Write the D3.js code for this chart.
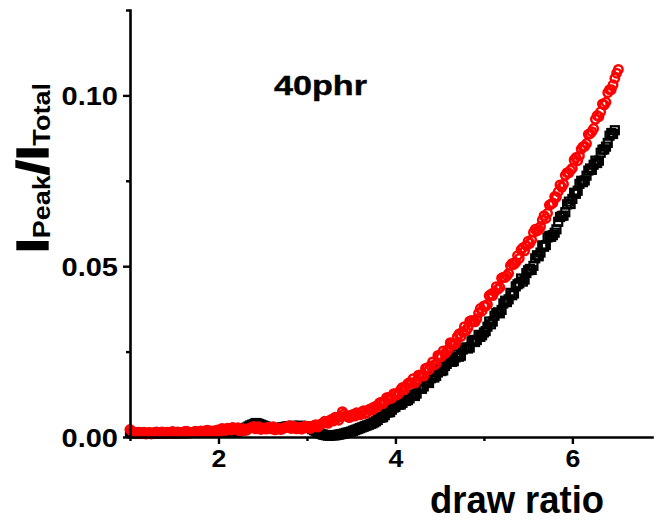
<!DOCTYPE html>
<html><head><meta charset="utf-8">
<script src="https://cdn.jsdelivr.net/npm/d3@7"></script>
<style>
body{margin:0;background:#fff}
svg{display:block}
text{font-family:"Liberation Sans",Arial,sans-serif;font-weight:bold;fill:#000}
</style>
</head><body>
<svg id="c" width="655" height="522"></svg>
<script>
// ---- data ----
const drawRatio = [
1.00,1.04,1.08,1.12,1.16,1.20,1.24,1.28,1.32,1.36,
1.40,1.44,1.48,1.52,1.56,1.60,1.64,1.68,1.72,1.76,
1.80,1.84,1.88,1.92,1.96,2.00,2.04,2.08,2.12,2.16,
2.20,2.24,2.28,2.32,2.36,2.40,2.44,2.48,2.52,2.56,
2.60,2.64,2.68,2.72,2.76,2.80,2.84,2.88,2.92,2.96,
3.00,3.04,3.08,3.12,3.16,3.20,3.24,3.28,3.32,3.36,
3.40,3.44,3.48,3.52,3.56,3.60,3.64,3.68,3.72,3.76,
3.80,3.84,3.88,3.92,3.96,4.00,4.04,4.08,4.12,4.16,
4.20,4.24,4.28,4.32,4.36,4.40,4.44,4.48,4.52,4.56,
4.60,4.64,4.68,4.72,4.76,4.80,4.84,4.88,4.92,4.96,
5.00,5.04,5.08,5.12,5.16,5.20,5.24,5.28,5.32,5.36,
5.40,5.44,5.48,5.52,5.56,5.60,5.64,5.68,5.72,5.76,
5.80,5.84,5.88,5.92,5.96,6.00,6.04,6.08,6.12,6.16,
6.20,6.24,6.28,6.32,6.36,6.40,6.44,6.48,6.52];

const drawRatioMid = [
1.02,1.06,1.10,1.14,1.18,1.22,1.26,1.30,1.34,1.38,
1.42,1.46,1.50,1.54,1.58,1.62,1.66,1.70,1.74,1.78,
1.82,1.86,1.90,1.94,1.98,2.02,2.06,2.10,2.14,2.18,
2.22,2.26,2.30,2.34,2.38,2.42,2.46,2.50,2.54,2.58,
2.62,2.66,2.70,2.74,2.78,2.82,2.86,2.90,2.94,2.98,
3.02,3.06,3.10,3.14,3.18,3.22,3.26,3.30,3.34,3.38,
3.42,3.46,3.50,3.54,3.58,3.62,3.66,3.70,3.74,3.78,
3.82,3.86,3.90,3.94,3.98,4.02,4.06,4.10,4.14,4.18,
4.22,4.26,4.30,4.34,4.38,4.42,4.46,4.50,4.54,4.58,
4.62,4.66,4.70,4.74,4.78,4.82,4.86,4.90,4.94,4.98,
5.02,5.06,5.10,5.14,5.18,5.22,5.26,5.30,5.34,5.38,
5.42,5.46,5.50,5.54,5.58,5.62,5.66,5.70,5.74,5.78,
5.82,5.86,5.90,5.94,5.98,6.02,6.06,6.10,6.14,6.18,
6.22,6.26,6.30,6.34,6.38,6.42,6.46,6.50];

// red circles
const redSeries = [
.0022,.0015,.0012,.0010,.0014,.0011,.0009,.0013,.0012,.0015,
.0011,.0013,.0016,.0012,.0010,.0014,.0017,.0013,.0015,.0012,
.0018,.0016,.0020,.0017,.0014,.0021,.0025,.0019,.0023,.0028,
.0022,.0018,.0024,.0020,.0026,.0031,.0027,.0022,.0025,.0029,
.0024,.0021,.0026,.0023,.0028,.0033,.0027,.0024,.0029,.0026,
.0031,.0025,.0034,.0029,.0038,.0046,.0040,.0052,.0058,.0049,
.0074,.0062,.0057,.0066,.0071,.0065,.0077,.0072,.0083,.0088,
.0089,.0102,.0104,.0116,.0114,.0127,.0128,.0145,.0146,.0160,
.0171,.0165,.0182,.0178,.0203,.0208,.0211,.0239,.0235,.0244,
.0257,.0274,.0274,.0302,.0308,.0311,.0339,.0337,.0346,.0376,
.0384,.0388,.0418,.0425,.0433,.0465,.0467,.0479,.0508,.0511,
.0523,.0554,.0560,.0567,.0599,.0603,.0616,.0648,.0655,.0682,
.0704,.0718,.0731,.0766,.0773,.0787,.0818,.0823,.0850,.0859,
.0888,.0903,.0941,.0952,.0972,.1008,.1017,.1050,.1076];

const redSeriesMid = [
.0018,.0011,.0014,.0012,.0009,.0013,.0011,.0015,.0010,.0013,
.0014,.0010,.0013,.0015,.0012,.0016,.0011,.0014,.0017,.0013,
.0015,.0019,.0014,.0018,.0020,.0017,.0022,.0026,.0020,.0024,
.0027,.0021,.0019,.0025,.0029,.0024,.0030,.0026,.0023,.0027,
.0030,.0025,.0022,.0027,.0030,.0025,.0031,.0028,.0023,.0032,
.0027,.0030,.0036,.0033,.0041,.0044,.0049,.0047,.0055,.0060,
.0068,.0059,.0064,.0061,.0068,.0073,.0069,.0080,.0079,.0090,
.0100,.0098,.0115,.0112,.0127,.0123,.0139,.0138,.0156,.0157,
.0158,.0181,.0180,.0201,.0197,.0220,.0215,.0238,.0252,.0250,
.0276,.0270,.0294,.0294,.0323,.0320,.0341,.0337,.0363,.0369,
.0383,.0414,.0414,.0440,.0438,.0468,.0472,.0502,.0505,.0531,
.0548,.0545,.0573,.0577,.0608,.0607,.0635,.0640,.0679,.0685,
.0702,.0738,.0740,.0774,.0781,.0811,.0809,.0843,.0851,.0886,
.0894,.0930,.0938,.0975,.0980,.1017,.1031,.1065];

// black squares
const blackSeries = [
.0012,.0010,.0013,.0011,.0009,.0012,.0010,.0011,.0013,.0010,
.0012,.0011,.0013,.0010,.0012,.0014,.0011,.0013,.0012,.0014,
.0013,.0015,.0012,.0014,.0016,.0013,.0015,.0014,.0016,.0015,
.0016,.0019,.0023,.0028,.0034,.0038,.0040,.0036,.0032,.0028,
.0025,.0024,.0026,.0028,.0030,.0031,.0033,.0031,.0033,.0032,
.0030,.0026,.0020,.0014,.0009,.0006,.0004,.0005,.0005,.0007,
.0009,.0012,.0014,.0018,.0022,.0026,.0030,.0034,.0038,.0043,
.0050,.0057,.0064,.0072,.0080,.0088,.0095,.0100,.0106,.0113,
.0124,.0127,.0144,.0148,.0160,.0172,.0174,.0189,.0193,.0208,
.0221,.0220,.0233,.0235,.0256,.0262,.0262,.0284,.0284,.0293,
.0306,.0323,.0330,.0355,.0365,.0372,.0399,.0403,.0415,.0441,
.0450,.0455,.0480,.0492,.0501,.0532,.0540,.0557,.0584,.0586,
.0598,.0630,.0647,.0658,.0689,.0697,.0712,.0741,.0746,.0765,
.0786,.0797,.0802,.0832,.0842,.0861,.0890,.0898];

const blackSeriesMid = [
.0011,.0012,.0009,.0012,.0010,.0011,.0012,.0009,.0011,.0012,
.0010,.0012,.0011,.0013,.0011,.0012,.0014,.0012,.0013,.0012,
.0014,.0013,.0015,.0013,.0014,.0016,.0014,.0015,.0014,.0016,
.0017,.0021,.0026,.0031,.0036,.0041,.0038,.0034,.0030,.0026,
.0024,.0025,.0027,.0029,.0031,.0032,.0032,.0032,.0032,.0031,
.0028,.0023,.0017,.0011,.0007,.0005,.0004,.0005,.0006,.0008,
.0010,.0013,.0016,.0020,.0024,.0028,.0032,.0036,.0040,.0046,
.0056,.0058,.0072,.0073,.0086,.0095,.0095,.0106,.0108,.0121,
.0120,.0141,.0141,.0162,.0158,.0178,.0179,.0197,.0195,.0214,
.0226,.0222,.0242,.0238,.0261,.0259,.0280,.0278,.0299,.0298,
.0310,.0338,.0338,.0363,.0362,.0391,.0395,.0422,.0420,.0447,
.0464,.0461,.0488,.0489,.0523,.0529,.0561,.0562,.0589,.0591,
.0608,.0644,.0648,.0681,.0682,.0715,.0721,.0750,.0751,.0780,
.0782,.0809,.0809,.0841,.0850,.0882,.0887];

const xMajorTicks = [2, 4, 6];
const xMinorTicks = [1, 3, 5];
const yMajorTicks = [0, 0.05, 0.10];
const yMinorTicks = [0.025, 0.075, 0.125];
const xDomain = [1, 6.9];
const yDomain = [0, 0.125];
const annotation = "40phr";
const xTitle = "draw ratio";

// ---- layout ----
const svg = d3.select("#c");
const L = 130, R = 652, T = 10, B = 437;
const x = d3.scaleLinear().domain(xDomain).range([L, R]);
const y = d3.scaleLinear().domain(yDomain).range([B, T]);

function stretch(sel, k) {
  sel.each(function () {
    const len = this.getComputedTextLength();
    d3.select(this).attr("textLength", len * k).attr("lengthAdjust", "spacingAndGlyphs");
  });
}
function pairs(xs, ys) { return ys.map((v, i) => [xs[i], v]); }

const blackData = pairs(drawRatio, blackSeries).concat(pairs(drawRatioMid, blackSeriesMid))
  .sort((a, b) => a[0] - b[0]);
const redData = pairs(drawRatio, redSeries).concat(pairs(drawRatioMid, redSeriesMid))
  .sort((a, b) => a[0] - b[0]);

// data marks: black squares first, red circles on top
const sq = 8;
svg.append("g").selectAll("rect").data(blackData).join("rect")
  .attr("x", d => x(d[0]) - sq / 2).attr("y", d => y(d[1]) - sq / 2)
  .attr("width", sq).attr("height", sq)
  .attr("fill", "none").attr("stroke", "#000").attr("stroke-width", 2.2);
svg.append("g").selectAll("circle").data(redData).join("circle")
  .attr("cx", d => x(d[0])).attr("cy", d => y(d[1])).attr("r", 4.2)
  .attr("fill", "none").attr("stroke", "#ff0000").attr("stroke-width", 2.5);

// axes
const gx = svg.append("g").attr("transform", `translate(0,${B})`);
gx.call(d3.axisBottom(x).tickValues(xMajorTicks).tickSize(7).tickSizeOuter(0).tickFormat(d3.format("d")));
const gxm = svg.append("g").attr("transform", `translate(0,${B})`);
gxm.call(d3.axisBottom(x).tickValues(xMinorTicks).tickSize(4).tickSizeOuter(0).tickFormat(""));
gxm.select(".domain").remove();

const gy = svg.append("g").attr("transform", `translate(${L},0)`);
gy.call(d3.axisLeft(y).tickValues(yMajorTicks).tickSize(7).tickSizeOuter(0).tickFormat(d3.format(".2f")));
const gym = svg.append("g").attr("transform", `translate(${L},0)`);
gym.call(d3.axisLeft(y).tickValues(yMinorTicks).tickSize(4).tickSizeOuter(0).tickFormat(""));
gym.select(".domain").remove();

svg.selectAll(".domain").attr("stroke", "#000").attr("stroke-width", 2.6).attr("stroke-linecap", "square");
svg.selectAll(".tick line").attr("stroke", "#000").attr("stroke-width", 2.4);

gx.selectAll(".tick text").attr("font-size", 23).attr("font-family", null).attr("y", 14).attr("dy", "0.71em").attr("fill", "#000");
gy.selectAll(".tick text").attr("font-size", 25).attr("font-family", null).attr("x", -12).attr("dy", "0.36em").attr("fill", "#000");
svg.selectAll(".tick text").call(stretch, 1.16);

// annotation
svg.append("text").attr("x", 274).attr("y", 95).attr("font-size", 28).text(annotation)
  .attr("stroke", "#000").attr("stroke-width", 0.4)
  .attr("textLength", 93).attr("lengthAdjust", "spacingAndGlyphs");

// x title
svg.append("text").attr("x", 430).attr("y", 513).attr("font-size", 38).text(xTitle)
  .attr("textLength", 174).attr("lengthAdjust", "spacingAndGlyphs");

// y title
const yt = svg.append("text").attr("text-anchor", "middle").attr("transform", "translate(48,168) rotate(-90)");
yt.append("tspan").attr("font-size", 45).attr("stroke", "#000").attr("stroke-width", 1.4).text("I");
yt.append("tspan").attr("font-size", 23).attr("dy", 2).text("Peak");
yt.append("tspan").attr("font-size", 45).attr("dy", -2).attr("stroke", "#000").attr("stroke-width", 1.4).text("/I");
yt.append("tspan").attr("font-size", 23).attr("dy", 2).text("Total");
const ytLen = yt.node().getComputedTextLength();
yt.attr("transform", `translate(48,168) rotate(-90) scale(${170 / ytLen},1)`);
</script>
</body></html>
